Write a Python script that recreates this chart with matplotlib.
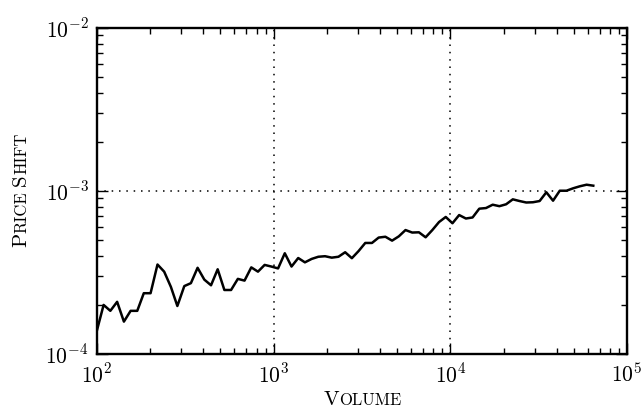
import numpy as np
import matplotlib
matplotlib.use('Agg')
import matplotlib.pyplot as plt
from matplotlib.ticker import FuncFormatter

# binned volume (log-spaced bin centres) and mean price shift per bin
volume = [100, 109, 119, 130, 142, 155, 169, 184, 201, 220,
          240, 262, 285, 312, 340, 371, 405, 442, 482, 526,
          574, 627, 684, 747, 815, 889, 970, 1059, 1156, 1262,
          1377, 1503, 1640, 1790, 1953, 2132, 2326, 2539, 2771, 3024,
          3300, 3601, 3930, 4289, 4681, 5109, 5575, 6085, 6640, 7247,
          7909, 8631, 9420, 10280, 11219, 12244, 13363, 14583, 15915, 17369,
          18955, 20687, 22576, 24638, 26889, 29345, 32025, 34951, 38143, 41627,
          45429, 49579, 54107, 59049, 64443]
price_shift = [1.40e-4, 2.00e-4, 1.84e-4, 2.09e-4, 1.58e-4, 1.84e-4, 1.84e-4, 2.36e-4, 2.36e-4, 3.54e-4,
               3.20e-4, 2.58e-4, 1.97e-4, 2.61e-4, 2.72e-4, 3.38e-4, 2.86e-4, 2.64e-4, 3.31e-4, 2.47e-4,
               2.47e-4, 2.89e-4, 2.82e-4, 3.40e-4, 3.20e-4, 3.52e-4, 3.44e-4, 3.35e-4, 4.15e-4, 3.44e-4,
               3.88e-4, 3.65e-4, 3.83e-4, 3.95e-4, 3.98e-4, 3.90e-4, 3.95e-4, 4.21e-4, 3.87e-4, 4.28e-4,
               4.80e-4, 4.80e-4, 5.18e-4, 5.24e-4, 4.96e-4, 5.27e-4, 5.76e-4, 5.56e-4, 5.58e-4, 5.20e-4,
               5.76e-4, 6.45e-4, 6.93e-4, 6.34e-4, 7.12e-4, 6.78e-4, 6.88e-4, 7.79e-4, 7.86e-4, 8.24e-4,
               8.07e-4, 8.29e-4, 8.89e-4, 8.68e-4, 8.50e-4, 8.53e-4, 8.68e-4, 9.82e-4, 8.72e-4, 1.004e-3,
               1.004e-3, 1.039e-3, 1.069e-3, 1.093e-3, 1.078e-3]

xlabel_words = ['Volume']
ylabel_words = ['Price', 'Shift']

plt.rcParams['mathtext.fontset'] = 'cm'
plt.rcParams['font.family'] = 'serif'
plt.rcParams['font.serif'] = ['cmr10']

W, H = 642, 413
fig = plt.figure(figsize=(W / 100, H / 100), dpi=100)
ax = fig.add_axes([97 / W, 1 - 354 / H, 530 / W, 326 / H])

ax.loglog(volume, price_shift, color='k', lw=1.8)
ax.set_xlim(1e2, 1e5)
ax.set_ylim(1e-4, 1e-2)
ax.grid(True, which='major', color='k', ls=(0, (1, 3.8)), lw=1.1)

# plain mathtext so the minus sign comes from the math font
pow10 = FuncFormatter(lambda v, pos: r'$10^{%d}$' % round(np.log10(v)) if v > 0 else '')
ax.xaxis.set_major_formatter(pow10)
ax.yaxis.set_major_formatter(pow10)

ax.tick_params(which='both', direction='in', top=True, right=True,
               labelsize=15.5, width=1)
ax.tick_params(axis='x', pad=6)
ax.tick_params(axis='y', pad=6)
ax.tick_params(which='major', length=8)
ax.tick_params(which='minor', length=4)
for s in ax.spines.values():
    s.set_linewidth(1.7)


def caps_label(words, cx, cy, big=15, small=12, vertical=False, gap=5):
    # fake small caps: first letter at full size, rest upper-case and smaller
    renderer = fig.canvas.get_renderer()
    pieces = []
    for k, word in enumerate(words):
        pieces.append((word[0], big, gap if k else 0))
        pieces.append((word[1:].upper(), small, 0))
    texts, widths = [], []
    for s, size, g in pieces:
        t = fig.text(0, 0, s, fontsize=size, rotation=90 if vertical else 0,
                     rotation_mode='anchor', ha='left', va='baseline')
        ext = t.get_window_extent(renderer)
        texts.append((t, g))
        widths.append((ext.height if vertical else ext.width) + g)
    pos = -sum(widths) / 2
    for (t, g), w in zip(texts, widths):
        pos += g
        if vertical:
            t.set_position((cx / W, (cy + pos) / H))
        else:
            t.set_position(((cx + pos) / W, cy / H))
        pos += w - g


caps_label(xlabel_words, 363, 8)
caps_label(ylabel_words, 26, H - 190, vertical=True)

fig.savefig('out.png', dpi=100)
